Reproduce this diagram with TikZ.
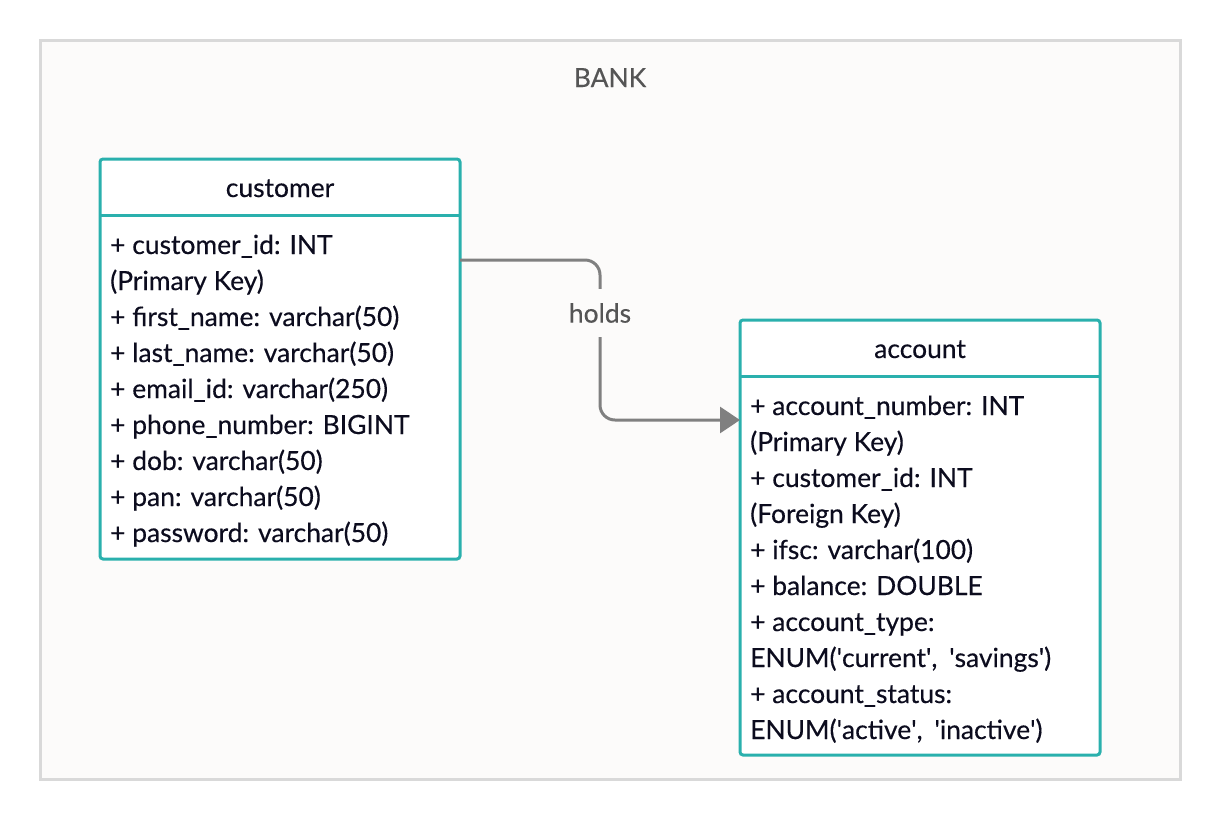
\documentclass[tikz,border=0pt]{standalone}
\usepackage{fontspec}
\setmainfont{Lato}[FakeBold=0.35]
\usetikzlibrary{arrows.meta}
\definecolor{bg}{HTML}{FCFBFA}
\definecolor{frame}{HTML}{D9D9D9}
\definecolor{teal}{HTML}{2AB0AD}
\definecolor{txt}{HTML}{0C0C1E}
\definecolor{conn}{HTML}{808080}
\definecolor{lbl}{HTML}{555555}
\newcommand{\sq}{\textquotesingle}
\tikzset{
  entity/.style={draw=teal, line width=3pt, fill=white, rounded corners=3pt},
  sep/.style={draw=teal, line width=3pt},
  row/.style={anchor=base west, inner sep=0pt, text=txt, font=\fontsize{26.4}{30}\selectfont},
  head/.style={anchor=base, inner sep=0pt, text=txt, font=\fontsize{26.4}{30}\selectfont},
  conn/.style={draw=conn, line width=3pt, rounded corners=15pt},
}
\begin{document}
\begin{tikzpicture}[x=1pt,y=-1pt]
\useasboundingbox (0,0) rectangle (1220,820);
\fill[white] (0,0) rectangle (1220,820);
\draw[draw=frame, fill=bg, line width=3pt] (40,40) rectangle (1180,779);
\node[anchor=base, inner sep=0pt, text=lbl, font=\fontsize{26.4}{30}\selectfont] (bank) at (610,87) {BANK};

% customer
\draw[entity] (100,159) rectangle (460,559);
\draw[sep] (100,215) -- (460,215);
\coordinate (custE) at (460,260);
\node[head] (custH) at (280,197) {customer};
\node[row] (c1) at (110,254) {+ customer\_id: INT};
\node[row] (c2) at (110,290) {(Primary Key)};
\node[row] (c3) at (110,326) {+ first\_name: varchar(50)};
\node[row] (c4) at (110,362) {+ last\_name: varchar(50)};
\node[row] (c5) at (110,398) {+ email\_id: varchar(250)};
\node[row] (c6) at (110,434) {+ phone\_number: BIGINT};
\node[row] (c7) at (110,470) {+ dob: varchar(50)};
\node[row] (c8) at (110,506) {+ pan: varchar(50)};
\node[row] (c9) at (110,542) {+ password: varchar(50)};

% account
\draw[entity] (740,320) rectangle (1100,755);
\draw[sep] (740,376) -- (1100,376);
\coordinate (accW) at (740,420);
\node[head] (accH) at (920,358) {account};
\node[row] (a1) at (750,415) {+ account\_number: INT};
\node[row] (a2) at (750,451) {(Primary Key)};
\node[row] (a3) at (750,487) {+ customer\_id: INT};
\node[row] (a4) at (750,523) {(Foreign Key)};
\node[row] (a5) at (750,559) {+ ifsc: varchar(100)};
\node[row] (a6) at (750,595) {+ balance: DOUBLE};
\node[row] (a7) at (750,631) {+ account\_type:};
\node[row] (a8) at (750,667) {ENUM(\sq current\sq,\hspace{0.45em}\sq savings\sq)};
\node[row] (a9) at (750,703) {+ account\_status:};
\node[row] (a10) at (750,739) {ENUM(\sq active\sq,\hspace{0.45em}\sq inactive\sq)};

% connector
\draw[conn, -{Triangle[length=20pt,width=26pt]}] (custE) -- (600,260) -- (600,420) -- (accW);
\node[fill=bg, inner xsep=4pt, inner ysep=0pt, minimum height=48pt, text=lbl, font=\fontsize{26.4}{30}\selectfont] (holds) at (600,313) {holds};
\end{tikzpicture}
\end{document}
